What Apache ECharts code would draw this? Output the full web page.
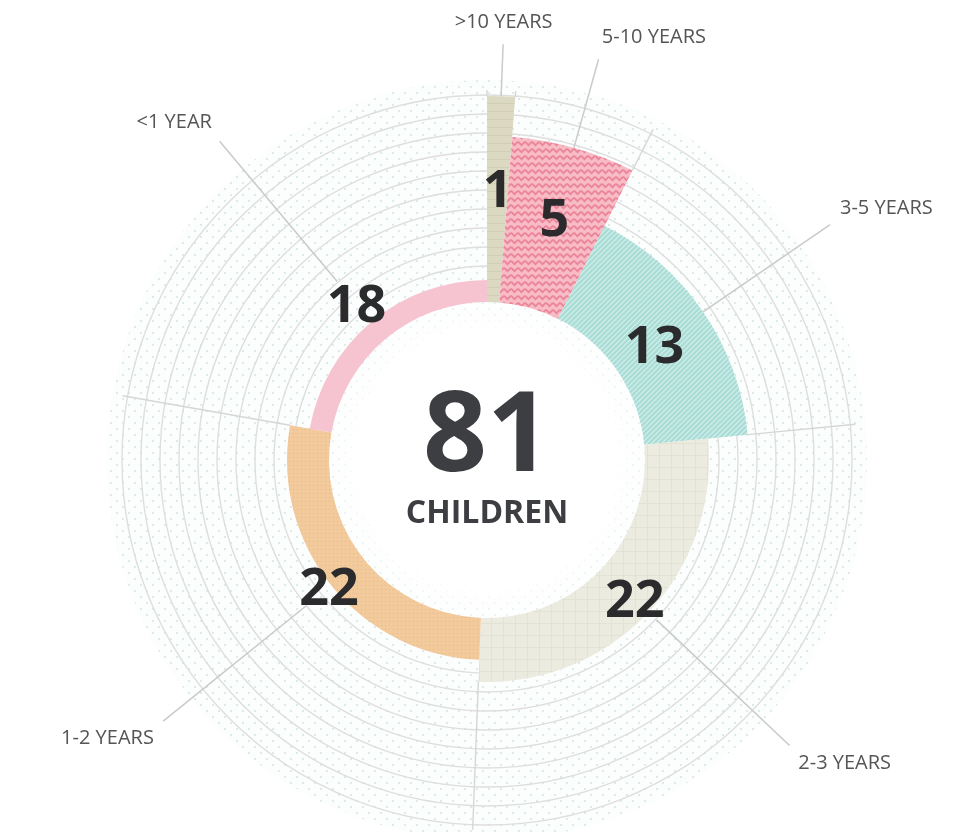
<!DOCTYPE html>
<html>
<head>
<meta charset="utf-8">
<style>
html,body{margin:0;padding:0;background:#ffffff;}
#chart{width:966px;height:832px;}
</style>
<script src="https://cdn.jsdelivr.net/npm/echarts@6/dist/echarts.min.js"></script>
</head>
<body>
<div id="chart"></div>
<script>
// ---------------- DATA ----------------
const categories = ['>10 YEARS', '5-10 YEARS', '3-5 YEARS', '2-3 YEARS', '1-2 YEARS', '<1 YEAR'];
const values = [1, 5, 13, 22, 22, 18];
const totalCaption = 'CHILDREN';

// ---------------- LAYOUT (radius-axis units, 1 unit = 4px) ----------------
const ringReach = [91, 81, 65.5, 55.5, 50, 45];   // outer edge of each slice
const INNER = 39.5, DISK = 95, EDGE = 92.5, LEAD_OUT = 104, LABEL_R = 107;

const total = values.reduce((a, b) => a + b, 0);
let acc = 0;
const rows = values.map((v, i) => { const s = acc; acc += v; return [s, acc, i]; });

// ---------------- PATTERNS ----------------
function makePattern(w, h, draw) {
  const c = document.createElement('canvas');
  c.width = w; c.height = h;
  const ctx = c.getContext('2d');
  draw(ctx, w, h);
  return { image: c, repeat: 'repeat' };
}
const dotPattern = makePattern(12, 12, (ctx, w, h) => {
  ctx.fillStyle = '#fcfdfd'; ctx.fillRect(0, 0, w, h);
  ctx.fillStyle = '#d5e5e3';
  ctx.beginPath(); ctx.arc(3, 3, 1.05, 0, Math.PI * 2); ctx.fill();
  ctx.beginPath(); ctx.arc(9, 9, 1.05, 0, Math.PI * 2); ctx.fill();
});
const fills = [
  makePattern(8, 8, (ctx, w, h) => {           // >10 khaki
    ctx.fillStyle = '#dcd9c2'; ctx.fillRect(0, 0, w, h);
    ctx.fillStyle = '#d2ceb4'; ctx.fillRect(0, 7, w, 1);
  }),
  makePattern(7, 7, (ctx, w, h) => {           // 5-10 zigzag
    ctx.fillStyle = '#f7bcc6'; ctx.fillRect(0, 0, w, h);
    ctx.strokeStyle = '#eb8599'; ctx.lineWidth = 1.9;
    ctx.beginPath(); ctx.moveTo(0, 1.8); ctx.lineTo(3.5, 5.2); ctx.lineTo(7, 1.8); ctx.stroke();
  }),
  makePattern(5, 5, (ctx, w, h) => {           // 3-5 hatch
    ctx.fillStyle = '#aadcd6'; ctx.fillRect(0, 0, w, h);
    ctx.strokeStyle = '#d5f0ed'; ctx.lineWidth = 1.2;
    ctx.beginPath();
    ctx.moveTo(0, h); ctx.lineTo(w, 0);
    ctx.moveTo(-1, 1); ctx.lineTo(1, -1);
    ctx.moveTo(w - 1, h + 1); ctx.lineTo(w + 1, h - 1);
    ctx.stroke();
  }),
  makePattern(12, 12, (ctx, w, h) => {         // 2-3 light grid
    ctx.fillStyle = '#ecebe0'; ctx.fillRect(0, 0, w, h);
    ctx.fillStyle = '#e3e2d4'; ctx.fillRect(0, 11, w, 1); ctx.fillRect(11, 0, 1, h);
  }),
  makePattern(4, 4, (ctx, w, h) => {           // 1-2 orange dotted
    ctx.fillStyle = '#f2ca9b'; ctx.fillRect(0, 0, w, h);
    ctx.fillStyle = '#e6b67f'; ctx.fillRect(1, 1, 1, 1);
  }),
  '#f6c3d0'                                     // <1 pink
];

// ---------------- HELPERS ----------------
function dist(p, c) { return Math.hypot(p[0] - c[0], p[1] - c[1]); }
function ang(p, c) { return Math.atan2(p[1] - c[1], p[0] - c[0]); }

const chart = echarts.init(document.getElementById('chart'));

const hiddenAxis = { axisLine: { show: false }, axisTick: { show: false }, axisLabel: { show: false }, splitLine: { show: false }, splitArea: { show: false } };

const option = {
  animation: false,
  backgroundColor: '#ffffff',
  polar: [
    { center: [487, 460], radius: [0, 480] },
    { center: [487, 460], radius: [175, 365] }
  ],
  angleAxis: [
    Object.assign({ polarIndex: 0, type: 'value', min: 0, max: total, startAngle: 90, clockwise: true, show: false }, hiddenAxis),
    Object.assign({ polarIndex: 1, type: 'value', min: 0, max: total, startAngle: 90, clockwise: true }, hiddenAxis)
  ],
  radiusAxis: [
    Object.assign({ polarIndex: 0, type: 'value', min: 0, max: 120, show: false }, hiddenAxis),
    {
      polarIndex: 1, type: 'value', min: 0, max: 10, interval: 1, z: 1,
      axisLine: { show: false }, axisTick: { show: false }, axisLabel: { show: false },
      splitLine: { show: true, lineStyle: { color: '#dedede', width: 1.4 } }
    }
  ],
  series: [
    {
      type: 'custom', coordinateSystem: 'polar', polarIndex: 0, z: 0, silent: true,
      data: [[0, 0]],
      renderItem: function (params, api) {
        const c = [params.coordSys.cx, params.coordSys.cy];
        const rDisk = dist(api.coord([DISK, 0]), c);
        const rIn = dist(api.coord([INNER, 0]), c);
        return {
          type: 'group',
          children: [
            { type: 'circle', shape: { cx: c[0], cy: c[1], r: rDisk }, style: { fill: dotPattern } },
            {
              type: 'circle', shape: { cx: c[0], cy: c[1], r: rIn },
              style: {
                fill: {
                  type: 'radial', x: 0.5, y: 0.5, r: 0.5,
                  colorStops: [
                    { offset: 0, color: '#ffffff' },
                    { offset: 0.8, color: '#ffffff' },
                    { offset: 1, color: 'rgba(255,255,255,0.35)' }
                  ]
                }
              }
            },
            {
              type: 'text', x: c[0], y: c[1] - 21, z2: 50,
              style: { text: String(total), fill: '#3d3e42', fontSize: 112, fontWeight: 'bold', fontFamily: '"Open Sans"', align: 'center', verticalAlign: 'middle', textAlign: 'center', textVerticalAlign: 'middle' }
            },
            {
              type: 'text', x: c[0], y: c[1] + 54, z2: 50,
              style: { text: totalCaption, fill: '#3d3e42', fontSize: 32, fontWeight: 'bold', fontFamily: '"Open Sans"', align: 'center', verticalAlign: 'middle', textAlign: 'center', textVerticalAlign: 'middle' }
            }
          ]
        };
      }
    },
    {
      type: 'custom', coordinateSystem: 'polar', polarIndex: 0, z: 2, silent: true,
      data: rows,
      renderItem: function (params, api) {
        const c = [params.coordSys.cx, params.coordSys.cy];
        const s = api.value(0), e = api.value(1), i = api.value(2);
        const reach = ringReach[i];
        const prevReach = ringReach[(i + ringReach.length - 1) % ringReach.length];
        const r0 = dist(api.coord([INNER, s]), c);
        const pS = api.coord([reach, s]);
        const pE = api.coord([reach, e]);
        const r1 = dist(pS, c);
        const a0 = ang(pS, c);
        let a1 = ang(pE, c);
        while (a1 <= a0) a1 += Math.PI * 2;
        const mid = (s + e) / 2;
        const v = values[i];

        const labR = Math.max(50.75, (INNER + reach) / 2 + (v < 10 ? 2.5 : -2.5));
        const pLab = api.coord([labR, mid]);

        const bFrom = api.coord([Math.max(reach, prevReach), s]);
        const bTo = api.coord([EDGE, s]);

        const lFrom = api.coord([Math.max(reach, labR + 7.5), mid]);
        const lTo = api.coord([LEAD_OUT, mid]);

        const pCat = api.coord([LABEL_R, mid]);
        const dx = (pCat[0] - c[0]) / dist(pCat, c);
        const dy = (pCat[1] - c[1]) / dist(pCat, c);
        const al = dx > 0.25 ? 'left' : (dx < -0.25 ? 'right' : 'center');
        const va = dy < -0.25 ? 'bottom' : (dy > 0.25 ? 'top' : 'middle');

        const children = [
          {
            type: 'sector',
            shape: { cx: c[0], cy: c[1], r0: r0, r: r1, startAngle: a0, endAngle: a1, clockwise: true },
            style: { fill: fills[i] }
          }
        ];
        if (Math.max(reach, prevReach) < EDGE) {
          children.push({
            type: 'line', z2: 5,
            shape: { x1: bFrom[0], y1: bFrom[1], x2: bTo[0], y2: bTo[1] },
            style: { stroke: '#d6d6d6', lineWidth: 1.4 }
          });
        }
        children.push({
          type: 'line', z2: 6,
          shape: { x1: lFrom[0], y1: lFrom[1], x2: lTo[0], y2: lTo[1] },
          style: { stroke: '#cacaca', lineWidth: 1.5 }
        });
        children.push({
          type: 'text', x: pLab[0], y: pLab[1] + 3, z2: 20,
          style: { text: String(v), fill: '#2b2b2d', fontSize: 52, fontWeight: 'bold', fontFamily: '"Open Sans"', align: 'center', verticalAlign: 'middle', textAlign: 'center', textVerticalAlign: 'middle' }
        });
        children.push({
          type: 'text', x: pCat[0], y: pCat[1], z2: 20,
          style: { text: categories[i], fill: '#555555', fontSize: 20, fontFamily: '"Open Sans"', align: al, verticalAlign: va, textAlign: al, textVerticalAlign: va }
        });
        return { type: 'group', children: children };
      }
    }
  ]
};
chart.setOption(option);
</script>
</body>
</html>
